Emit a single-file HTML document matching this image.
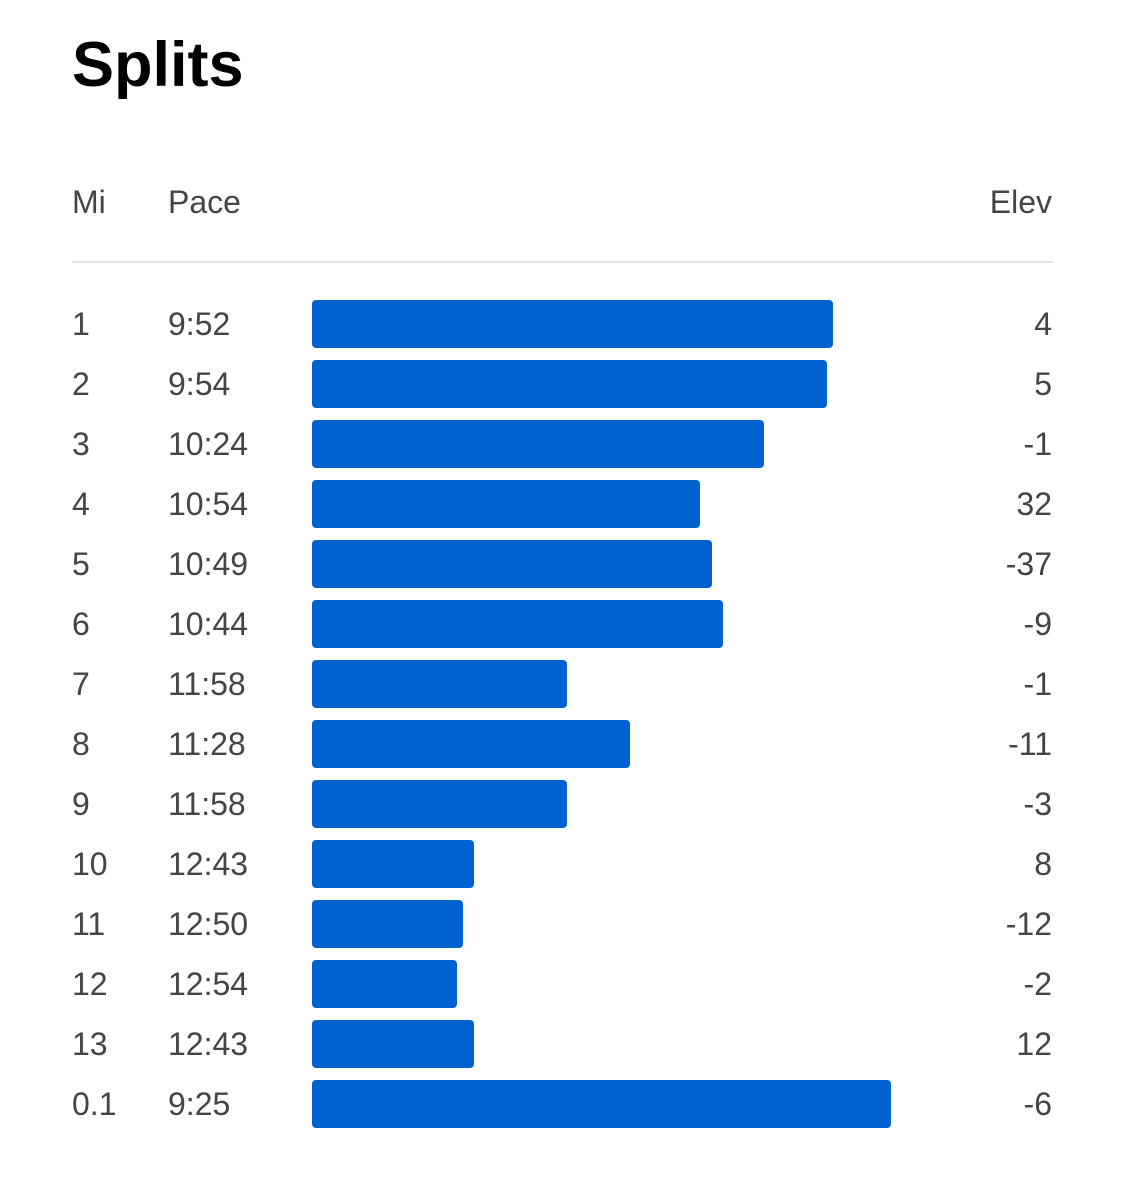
<!DOCTYPE html>
<html><head><style>
html,body{margin:0;padding:0;background:#fff;}
svg{display:block;}
</style></head><body>
<svg width="1125" height="1197" xmlns="http://www.w3.org/2000/svg" font-family="Liberation Sans, sans-serif">
<text x="72" y="86" font-size="63" font-weight="bold" fill="#000">Splits</text>
<g font-size="32" fill="#444">
<text x="72" y="213">Mi</text>
<text x="168" y="213">Pace</text>
<text x="1052" y="213" text-anchor="end">Elev</text>
</g>
<rect x="72" y="261" width="981" height="2" fill="#e2e2e2"/>
<g fill="#0061d0">
<rect x="312" y="300" width="521" height="48" rx="4"/>
<rect x="312" y="360" width="515" height="48" rx="4"/>
<rect x="312" y="420" width="452" height="48" rx="4"/>
<rect x="312" y="480" width="388" height="48" rx="4"/>
<rect x="312" y="540" width="400" height="48" rx="4"/>
<rect x="312" y="600" width="411" height="48" rx="4"/>
<rect x="312" y="660" width="255" height="48" rx="4"/>
<rect x="312" y="720" width="318" height="48" rx="4"/>
<rect x="312" y="780" width="255" height="48" rx="4"/>
<rect x="312" y="840" width="162" height="48" rx="4"/>
<rect x="312" y="900" width="151" height="48" rx="4"/>
<rect x="312" y="960" width="145" height="48" rx="4"/>
<rect x="312" y="1020" width="162" height="48" rx="4"/>
<rect x="312" y="1080" width="579" height="48" rx="4"/>
</g>
<g font-size="32" fill="#444">
<text x="72" y="335">1</text><text x="168" y="335">9:52</text><text x="1052" y="335" text-anchor="end">4</text>
<text x="72" y="395">2</text><text x="168" y="395">9:54</text><text x="1052" y="395" text-anchor="end">5</text>
<text x="72" y="455">3</text><text x="168" y="455">10:24</text><text x="1052" y="455" text-anchor="end">-1</text>
<text x="72" y="515">4</text><text x="168" y="515">10:54</text><text x="1052" y="515" text-anchor="end">32</text>
<text x="72" y="575">5</text><text x="168" y="575">10:49</text><text x="1052" y="575" text-anchor="end">-37</text>
<text x="72" y="635">6</text><text x="168" y="635">10:44</text><text x="1052" y="635" text-anchor="end">-9</text>
<text x="72" y="695">7</text><text x="168" y="695">11:58</text><text x="1052" y="695" text-anchor="end">-1</text>
<text x="72" y="755">8</text><text x="168" y="755">11:28</text><text x="1052" y="755" text-anchor="end">-11</text>
<text x="72" y="815">9</text><text x="168" y="815">11:58</text><text x="1052" y="815" text-anchor="end">-3</text>
<text x="72" y="875">10</text><text x="168" y="875">12:43</text><text x="1052" y="875" text-anchor="end">8</text>
<text x="72" y="935">11</text><text x="168" y="935">12:50</text><text x="1052" y="935" text-anchor="end">-12</text>
<text x="72" y="995">12</text><text x="168" y="995">12:54</text><text x="1052" y="995" text-anchor="end">-2</text>
<text x="72" y="1055">13</text><text x="168" y="1055">12:43</text><text x="1052" y="1055" text-anchor="end">12</text>
<text x="72" y="1115">0.1</text><text x="168" y="1115">9:25</text><text x="1052" y="1115" text-anchor="end">-6</text>
</g>
</svg>
</body></html>
